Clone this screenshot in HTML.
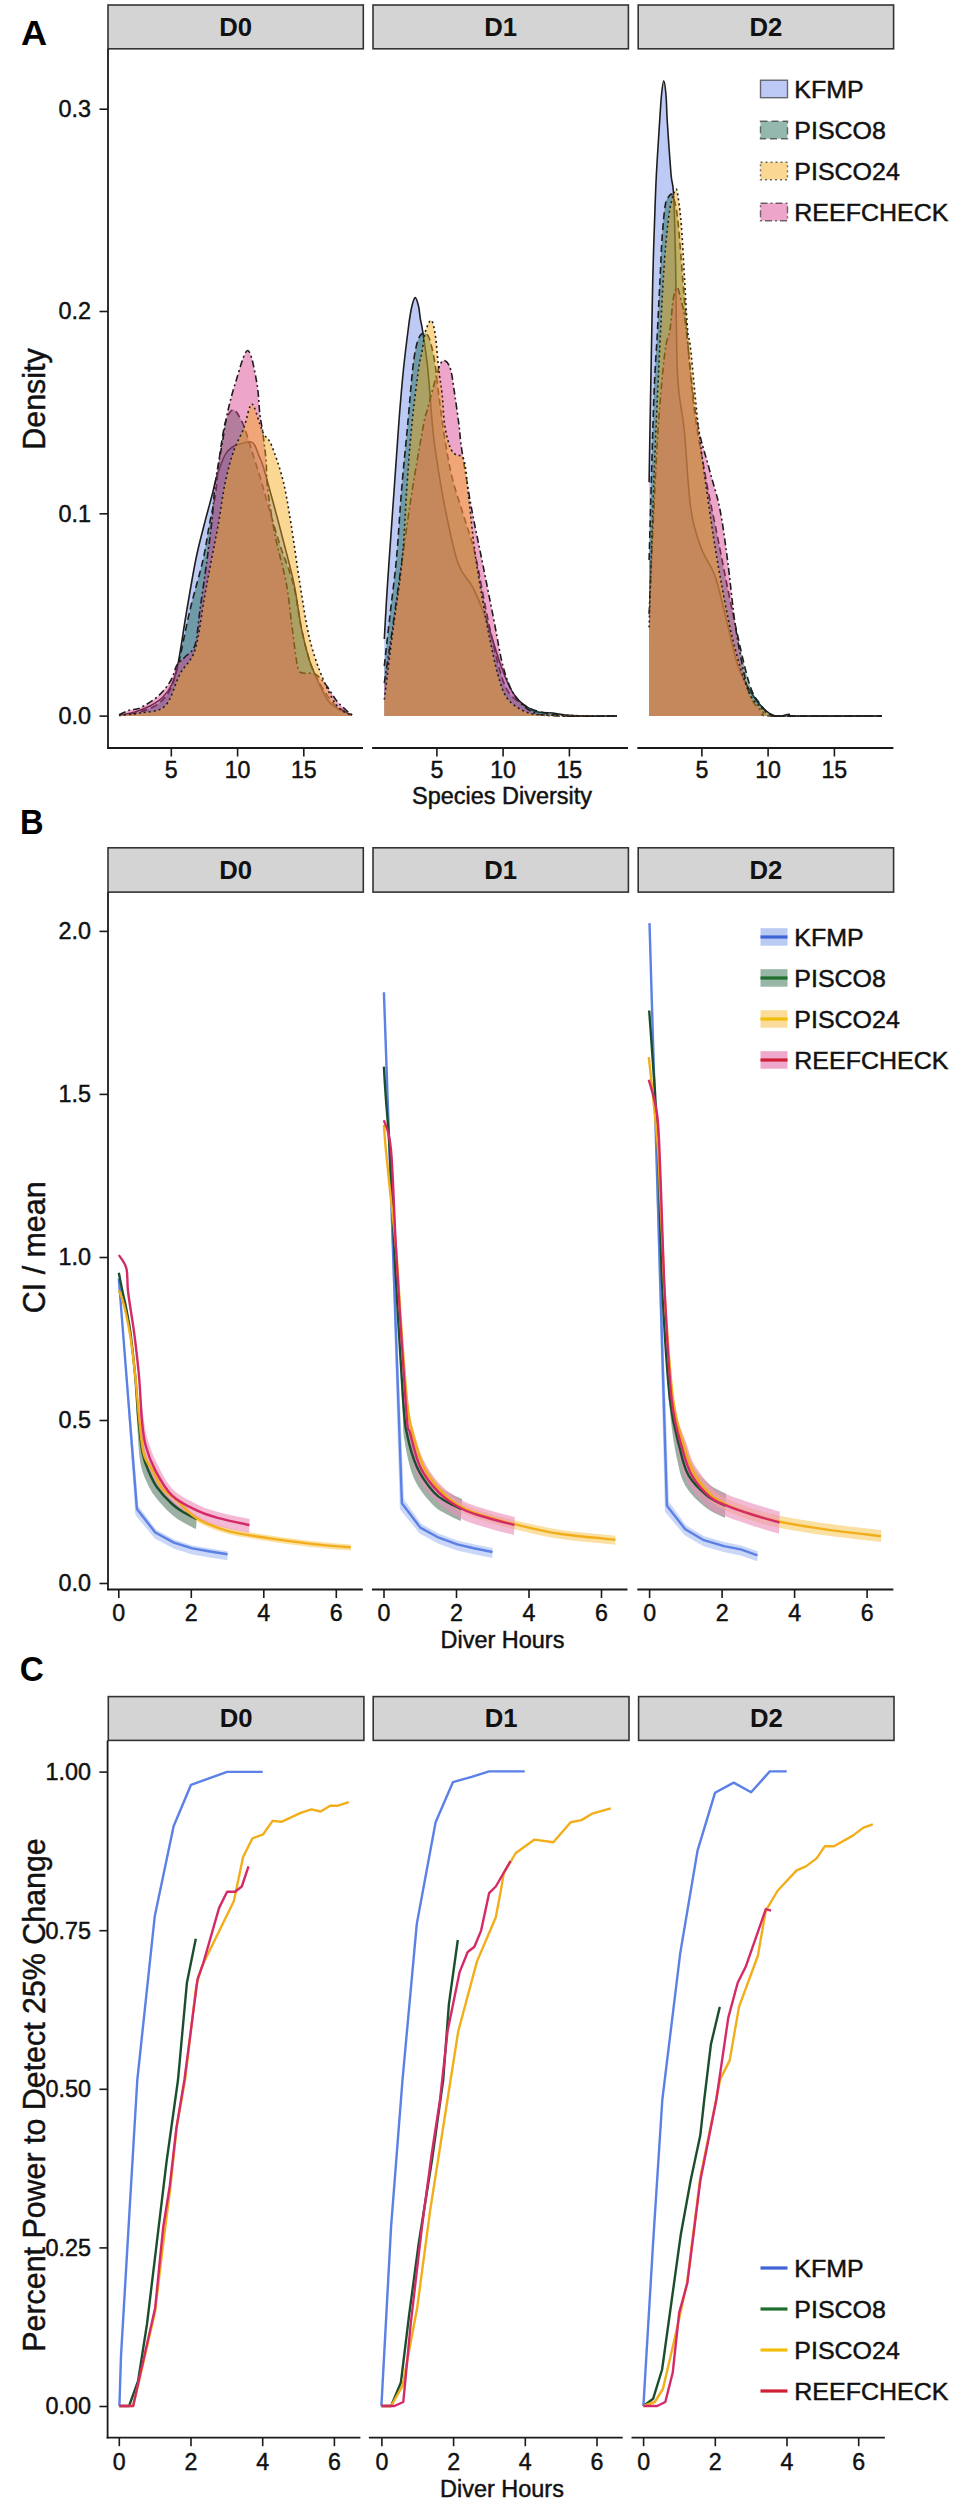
<!DOCTYPE html><html><head><meta charset="utf-8"><style>html,body{margin:0;padding:0;background:#fff;}svg{display:block;}</style></head><body>
<svg width="953" height="2500" viewBox="0 0 953 2500" font-family='"Liberation Sans", sans-serif'>
<rect x="0" y="0" width="953" height="2500" fill="#fff"/>
<text x="0" y="0" font-size="35.50" text-anchor="start" font-weight="bold" fill="#000" transform="translate(20.90 45.30) scale(1.0200 1)">A</text>
<rect x="108.0" y="5.0" width="255.3" height="43.8" fill="#d4d4d4" stroke="#333333" stroke-width="1.6"/>
<text x="235.65" y="35.60" font-size="25.70" text-anchor="middle" font-weight="bold" fill="#111">D0</text>
<rect x="373.0" y="5.0" width="255.4" height="43.8" fill="#d4d4d4" stroke="#333333" stroke-width="1.6"/>
<text x="500.70" y="35.60" font-size="25.70" text-anchor="middle" font-weight="bold" fill="#111">D1</text>
<rect x="638.2" y="5.0" width="255.4" height="43.8" fill="#d4d4d4" stroke="#333333" stroke-width="1.6"/>
<text x="765.90" y="35.60" font-size="25.70" text-anchor="middle" font-weight="bold" fill="#111">D2</text>
<line x1="108.0" y1="48.8" x2="108.0" y2="748.8" stroke="#1a1a1a" stroke-width="1.8"/>
<line x1="107.1" y1="748.0" x2="363.0" y2="748.0" stroke="#1a1a1a" stroke-width="1.8"/>
<line x1="372.1" y1="748.0" x2="628.0" y2="748.0" stroke="#1a1a1a" stroke-width="1.8"/>
<line x1="637.3" y1="748.0" x2="893.4" y2="748.0" stroke="#1a1a1a" stroke-width="1.8"/>
<line x1="99.5" y1="716.1" x2="108.0" y2="716.1" stroke="#1a1a1a" stroke-width="1.6"/>
<text x="91.00" y="724.08" font-size="23.40" text-anchor="end" stroke="#111" stroke-width="0.45" fill="#111">0.0</text>
<line x1="99.5" y1="513.8" x2="108.0" y2="513.8" stroke="#1a1a1a" stroke-width="1.6"/>
<text x="91.00" y="521.78" font-size="23.40" text-anchor="end" stroke="#111" stroke-width="0.45" fill="#111">0.1</text>
<line x1="99.5" y1="311.5" x2="108.0" y2="311.5" stroke="#1a1a1a" stroke-width="1.6"/>
<text x="91.00" y="319.48" font-size="23.40" text-anchor="end" stroke="#111" stroke-width="0.45" fill="#111">0.2</text>
<line x1="99.5" y1="109.2" x2="108.0" y2="109.2" stroke="#1a1a1a" stroke-width="1.6"/>
<text x="91.00" y="117.18" font-size="23.40" text-anchor="end" stroke="#111" stroke-width="0.45" fill="#111">0.3</text>
<line x1="171.3" y1="748.0" x2="171.3" y2="756.5" stroke="#1a1a1a" stroke-width="1.6"/>
<text x="171.30" y="778.20" font-size="23.20" text-anchor="middle" stroke="#111" stroke-width="0.45" fill="#111">5</text>
<line x1="237.6" y1="748.0" x2="237.6" y2="756.5" stroke="#1a1a1a" stroke-width="1.6"/>
<text x="237.55" y="778.20" font-size="23.20" text-anchor="middle" stroke="#111" stroke-width="0.45" fill="#111">10</text>
<line x1="303.8" y1="748.0" x2="303.8" y2="756.5" stroke="#1a1a1a" stroke-width="1.6"/>
<text x="303.80" y="778.20" font-size="23.20" text-anchor="middle" stroke="#111" stroke-width="0.45" fill="#111">15</text>
<line x1="436.9" y1="748.0" x2="436.9" y2="756.5" stroke="#1a1a1a" stroke-width="1.6"/>
<text x="436.85" y="778.20" font-size="23.20" text-anchor="middle" stroke="#111" stroke-width="0.45" fill="#111">5</text>
<line x1="503.1" y1="748.0" x2="503.1" y2="756.5" stroke="#1a1a1a" stroke-width="1.6"/>
<text x="503.10" y="778.20" font-size="23.20" text-anchor="middle" stroke="#111" stroke-width="0.45" fill="#111">10</text>
<line x1="569.4" y1="748.0" x2="569.4" y2="756.5" stroke="#1a1a1a" stroke-width="1.6"/>
<text x="569.35" y="778.20" font-size="23.20" text-anchor="middle" stroke="#111" stroke-width="0.45" fill="#111">15</text>
<line x1="701.9" y1="748.0" x2="701.9" y2="756.5" stroke="#1a1a1a" stroke-width="1.6"/>
<text x="701.85" y="778.20" font-size="23.20" text-anchor="middle" stroke="#111" stroke-width="0.45" fill="#111">5</text>
<line x1="768.1" y1="748.0" x2="768.1" y2="756.5" stroke="#1a1a1a" stroke-width="1.6"/>
<text x="768.10" y="778.20" font-size="23.20" text-anchor="middle" stroke="#111" stroke-width="0.45" fill="#111">10</text>
<line x1="834.4" y1="748.0" x2="834.4" y2="756.5" stroke="#1a1a1a" stroke-width="1.6"/>
<text x="834.35" y="778.20" font-size="23.20" text-anchor="middle" stroke="#111" stroke-width="0.45" fill="#111">15</text>
<text x="0" y="0" font-size="23.00" text-anchor="middle" stroke="#111" stroke-width="0.45" fill="#111" transform="translate(502.00 804.00) scale(1.0200 1)">Species Diversity</text>
<text x="0" y="0" font-size="30.40" text-anchor="middle" fill="#111" stroke="#111" stroke-width="0.45" transform="translate(44.70 399.00) rotate(-90) scale(1 1.06)">Density</text>
<path d="M119.0 716.0 L119.0 715.5 C121.7 714.9 129.8 713.6 135.0 712.0 C140.2 710.4 145.3 708.5 150.0 706.0 C154.7 703.5 159.3 700.7 163.0 697.0 C166.7 693.3 169.5 689.5 172.0 684.0 C174.5 678.5 175.7 675.5 178.0 664.0 C180.3 652.5 183.1 632.3 186.0 615.0 C188.9 597.7 192.7 575.0 195.7 560.0 C198.7 545.0 201.3 536.1 204.1 525.0 C206.9 513.9 210.4 501.6 212.5 493.5 C214.6 485.4 214.6 483.1 216.7 476.7 C218.8 470.3 222.4 459.9 225.0 455.0 C227.6 450.1 229.9 448.8 232.4 447.0 C234.9 445.2 237.0 444.9 240.0 444.0 C243.0 443.1 248.0 441.6 250.4 441.8 C252.8 442.0 253.2 442.7 254.6 445.0 C256.0 447.3 257.4 451.9 258.8 455.4 C260.2 458.9 261.1 459.9 263.0 466.0 C264.9 472.1 267.1 480.1 270.3 492.0 C273.6 503.9 278.6 522.5 282.5 537.7 C286.4 552.9 290.7 568.1 293.9 583.3 C297.1 598.5 299.0 616.2 301.5 628.9 C304.0 641.6 306.8 651.7 309.1 659.3 C311.4 666.9 313.0 669.4 315.1 674.5 C317.2 679.6 319.5 685.2 322.0 690.0 C324.5 694.8 327.0 699.7 330.0 703.0 C333.0 706.3 336.3 708.0 340.0 710.0 C343.7 712.0 350.0 714.2 352.0 715.0 L352.0 716.0 Z" fill="#6a89e9" fill-opacity="0.45" stroke="none"/>
<path d="M119.0 715.5 C121.7 714.9 129.8 713.6 135.0 712.0 C140.2 710.4 145.3 708.5 150.0 706.0 C154.7 703.5 159.3 700.7 163.0 697.0 C166.7 693.3 169.5 689.5 172.0 684.0 C174.5 678.5 175.7 675.5 178.0 664.0 C180.3 652.5 183.1 632.3 186.0 615.0 C188.9 597.7 192.7 575.0 195.7 560.0 C198.7 545.0 201.3 536.1 204.1 525.0 C206.9 513.9 210.4 501.6 212.5 493.5 C214.6 485.4 214.6 483.1 216.7 476.7 C218.8 470.3 222.4 459.9 225.0 455.0 C227.6 450.1 229.9 448.8 232.4 447.0 C234.9 445.2 237.0 444.9 240.0 444.0 C243.0 443.1 248.0 441.6 250.4 441.8 C252.8 442.0 253.2 442.7 254.6 445.0 C256.0 447.3 257.4 451.9 258.8 455.4 C260.2 458.9 261.1 459.9 263.0 466.0 C264.9 472.1 267.1 480.1 270.3 492.0 C273.6 503.9 278.6 522.5 282.5 537.7 C286.4 552.9 290.7 568.1 293.9 583.3 C297.1 598.5 299.0 616.2 301.5 628.9 C304.0 641.6 306.8 651.7 309.1 659.3 C311.4 666.9 313.0 669.4 315.1 674.5 C317.2 679.6 319.5 685.2 322.0 690.0 C324.5 694.8 327.0 699.7 330.0 703.0 C333.0 706.3 336.3 708.0 340.0 710.0 C343.7 712.0 350.0 714.2 352.0 715.0" fill="none" stroke="#1e1e1e" stroke-width="1.6"/>
<path d="M119.0 716.0 L119.0 715.5 C122.5 714.9 133.5 713.9 140.0 712.0 C146.5 710.1 153.0 707.7 158.0 704.0 C163.0 700.3 166.6 696.7 170.0 690.0 C173.4 683.3 175.1 677.1 178.4 663.8 C181.7 650.5 185.9 627.3 190.0 610.0 C194.1 592.7 199.8 574.2 203.0 560.0 C206.2 545.8 207.2 536.1 209.3 525.0 C211.4 513.9 214.1 503.1 215.6 493.5 C217.1 483.9 217.1 476.1 218.2 467.2 C219.3 458.3 220.7 447.9 222.0 440.0 C223.3 432.1 224.2 425.0 226.1 420.0 C228.0 415.0 230.8 409.1 233.6 409.8 C236.4 410.5 240.3 418.1 243.0 424.0 C245.7 429.9 247.0 435.7 250.0 445.0 C253.0 454.3 257.9 470.0 260.9 480.0 C263.9 490.0 264.8 494.2 268.0 505.0 C271.2 515.8 275.8 532.0 280.0 545.0 C284.2 558.0 289.4 569.0 293.0 583.0 C296.6 597.0 298.8 616.2 301.5 628.9 C304.2 641.6 306.8 651.7 309.1 659.3 C311.4 666.9 312.5 669.0 315.1 674.5 C317.8 680.0 321.5 686.8 325.0 692.0 C328.5 697.2 331.5 702.2 336.0 706.0 C340.5 709.8 349.3 713.5 352.0 715.0 L352.0 716.0 Z" fill="#11614b" fill-opacity="0.45" stroke="none"/>
<path d="M119.0 715.5 C122.5 714.9 133.5 713.9 140.0 712.0 C146.5 710.1 153.0 707.7 158.0 704.0 C163.0 700.3 166.6 696.7 170.0 690.0 C173.4 683.3 175.1 677.1 178.4 663.8 C181.7 650.5 185.9 627.3 190.0 610.0 C194.1 592.7 199.8 574.2 203.0 560.0 C206.2 545.8 207.2 536.1 209.3 525.0 C211.4 513.9 214.1 503.1 215.6 493.5 C217.1 483.9 217.1 476.1 218.2 467.2 C219.3 458.3 220.7 447.9 222.0 440.0 C223.3 432.1 224.2 425.0 226.1 420.0 C228.0 415.0 230.8 409.1 233.6 409.8 C236.4 410.5 240.3 418.1 243.0 424.0 C245.7 429.9 247.0 435.7 250.0 445.0 C253.0 454.3 257.9 470.0 260.9 480.0 C263.9 490.0 264.8 494.2 268.0 505.0 C271.2 515.8 275.8 532.0 280.0 545.0 C284.2 558.0 289.4 569.0 293.0 583.0 C296.6 597.0 298.8 616.2 301.5 628.9 C304.2 641.6 306.8 651.7 309.1 659.3 C311.4 666.9 312.5 669.0 315.1 674.5 C317.8 680.0 321.5 686.8 325.0 692.0 C328.5 697.2 331.5 702.2 336.0 706.0 C340.5 709.8 349.3 713.5 352.0 715.0" fill="none" stroke="#1e1e1e" stroke-width="1.6" stroke-dasharray="7 4"/>
<path d="M119.0 716.0 L119.0 714.7 C120.8 713.9 126.4 711.1 130.0 710.0 C133.6 708.9 135.6 710.2 140.4 707.8 C145.2 705.4 153.5 700.2 158.6 695.7 C163.7 691.2 167.7 685.6 170.8 680.5 C173.9 675.4 174.6 668.9 177.0 665.0 C179.4 661.1 182.0 660.3 185.0 657.0 C188.0 653.7 192.5 652.8 195.0 645.0 C197.5 637.2 198.0 624.2 200.0 610.0 C202.0 595.8 205.0 575.0 207.0 560.0 C209.0 545.0 210.6 533.3 212.0 520.0 C213.4 506.7 214.0 492.5 215.7 480.0 C217.4 467.5 220.1 456.1 222.0 445.0 C223.9 433.9 225.0 424.0 227.3 413.5 C229.6 403.0 232.3 392.5 235.7 382.0 C239.1 371.5 244.2 350.5 247.7 350.5 C251.2 350.5 254.7 371.5 256.7 382.0 C258.7 392.5 258.8 404.8 259.8 413.5 C260.9 422.2 262.0 426.6 263.0 434.4 C264.0 442.1 265.2 450.4 266.0 460.0 C266.8 469.6 266.4 479.1 268.0 492.0 C269.6 504.9 272.6 522.5 275.6 537.7 C278.7 552.9 283.5 568.1 286.3 583.3 C289.1 598.5 290.4 614.9 292.3 628.9 C294.2 642.9 295.9 659.6 297.7 667.0 C299.5 674.4 300.1 671.8 303.0 673.0 C305.9 674.2 311.2 672.0 315.0 674.0 C318.8 676.0 322.5 680.7 326.0 685.0 C329.5 689.3 332.7 695.8 336.0 700.0 C339.3 704.2 343.3 707.5 346.0 710.0 C348.7 712.5 351.0 714.2 352.0 715.0 L352.0 716.0 Z" fill="#d93789" fill-opacity="0.45" stroke="none"/>
<path d="M119.0 714.7 C120.8 713.9 126.4 711.1 130.0 710.0 C133.6 708.9 135.6 710.2 140.4 707.8 C145.2 705.4 153.5 700.2 158.6 695.7 C163.7 691.2 167.7 685.6 170.8 680.5 C173.9 675.4 174.6 668.9 177.0 665.0 C179.4 661.1 182.0 660.3 185.0 657.0 C188.0 653.7 192.5 652.8 195.0 645.0 C197.5 637.2 198.0 624.2 200.0 610.0 C202.0 595.8 205.0 575.0 207.0 560.0 C209.0 545.0 210.6 533.3 212.0 520.0 C213.4 506.7 214.0 492.5 215.7 480.0 C217.4 467.5 220.1 456.1 222.0 445.0 C223.9 433.9 225.0 424.0 227.3 413.5 C229.6 403.0 232.3 392.5 235.7 382.0 C239.1 371.5 244.2 350.5 247.7 350.5 C251.2 350.5 254.7 371.5 256.7 382.0 C258.7 392.5 258.8 404.8 259.8 413.5 C260.9 422.2 262.0 426.6 263.0 434.4 C264.0 442.1 265.2 450.4 266.0 460.0 C266.8 469.6 266.4 479.1 268.0 492.0 C269.6 504.9 272.6 522.5 275.6 537.7 C278.7 552.9 283.5 568.1 286.3 583.3 C289.1 598.5 290.4 614.9 292.3 628.9 C294.2 642.9 295.9 659.6 297.7 667.0 C299.5 674.4 300.1 671.8 303.0 673.0 C305.9 674.2 311.2 672.0 315.0 674.0 C318.8 676.0 322.5 680.7 326.0 685.0 C329.5 689.3 332.7 695.8 336.0 700.0 C339.3 704.2 343.3 707.5 346.0 710.0 C348.7 712.5 351.0 714.2 352.0 715.0" fill="none" stroke="#1e1e1e" stroke-width="1.6" stroke-dasharray="7 3 2 3"/>
<path d="M119.0 716.0 L119.0 715.0 C122.5 714.7 132.3 714.5 140.0 713.0 C147.7 711.5 158.3 712.5 165.0 706.0 C171.7 699.5 175.0 683.3 180.0 674.0 C185.0 664.7 191.0 662.3 195.0 650.0 C199.0 637.7 201.3 615.0 204.0 600.0 C206.7 585.0 209.0 572.5 211.4 560.0 C213.8 547.5 215.9 537.8 218.2 525.0 C220.5 512.2 222.5 495.2 225.1 483.0 C227.7 470.8 230.5 460.2 233.5 451.5 C236.5 442.8 241.0 435.1 242.9 430.5 C244.8 425.9 243.6 428.4 245.1 424.0 C246.6 419.6 249.4 404.0 251.9 404.0 C254.4 404.0 257.8 418.9 259.8 424.0 C261.8 429.1 262.1 430.9 264.0 434.4 C265.9 437.9 268.2 437.4 271.4 445.0 C274.5 452.6 279.7 467.1 282.9 480.0 C286.1 492.9 288.0 505.3 290.8 522.5 C293.6 539.7 296.8 564.3 299.9 583.3 C302.9 602.3 305.6 621.3 309.1 636.5 C312.7 651.7 316.6 663.1 321.2 674.5 C325.8 685.9 331.3 698.1 336.4 705.0 C341.5 711.9 349.1 713.8 351.6 715.6 L351.6 716.0 Z" fill="#f4a811" fill-opacity="0.45" stroke="none"/>
<path d="M119.0 715.0 C122.5 714.7 132.3 714.5 140.0 713.0 C147.7 711.5 158.3 712.5 165.0 706.0 C171.7 699.5 175.0 683.3 180.0 674.0 C185.0 664.7 191.0 662.3 195.0 650.0 C199.0 637.7 201.3 615.0 204.0 600.0 C206.7 585.0 209.0 572.5 211.4 560.0 C213.8 547.5 215.9 537.8 218.2 525.0 C220.5 512.2 222.5 495.2 225.1 483.0 C227.7 470.8 230.5 460.2 233.5 451.5 C236.5 442.8 241.0 435.1 242.9 430.5 C244.8 425.9 243.6 428.4 245.1 424.0 C246.6 419.6 249.4 404.0 251.9 404.0 C254.4 404.0 257.8 418.9 259.8 424.0 C261.8 429.1 262.1 430.9 264.0 434.4 C265.9 437.9 268.2 437.4 271.4 445.0 C274.5 452.6 279.7 467.1 282.9 480.0 C286.1 492.9 288.0 505.3 290.8 522.5 C293.6 539.7 296.8 564.3 299.9 583.3 C302.9 602.3 305.6 621.3 309.1 636.5 C312.7 651.7 316.6 663.1 321.2 674.5 C325.8 685.9 331.3 698.1 336.4 705.0 C341.5 711.9 349.1 713.8 351.6 715.6" fill="none" stroke="#1e1e1e" stroke-width="1.6" stroke-dasharray="2 3"/>
<path d="M384.3 716.0 L384.3 639.0 C384.7 632.5 385.7 613.3 386.5 600.0 C387.3 586.7 387.9 578.2 389.2 559.4 C390.5 540.6 392.7 510.1 394.3 487.2 C395.9 464.3 397.4 441.7 398.9 422.0 C400.4 402.3 401.9 384.8 403.5 369.0 C405.1 353.2 407.2 337.2 408.5 327.0 C409.8 316.8 410.4 312.9 411.5 308.0 C412.6 303.1 414.0 297.9 415.2 297.6 C416.4 297.3 417.6 302.5 418.5 306.0 C419.4 309.5 419.6 314.3 420.3 318.6 C421.0 322.9 421.6 323.6 422.8 332.0 C424.1 340.4 426.3 354.3 427.8 369.0 C429.3 383.7 430.8 406.5 432.0 420.0 C433.2 433.5 433.2 435.6 435.3 450.0 C437.4 464.4 441.0 487.8 444.8 506.7 C448.6 525.6 453.3 549.8 458.0 563.3 C462.7 576.8 468.4 578.4 473.1 587.9 C477.8 597.4 481.6 606.8 486.3 620.0 C491.0 633.2 496.7 654.6 501.4 667.2 C506.1 679.8 509.3 688.4 514.7 695.6 C520.1 702.9 527.2 707.8 533.6 710.7 C540.0 713.6 547.8 712.3 553.0 713.0 C558.2 713.7 560.5 714.5 565.0 715.0 C569.5 715.5 571.3 715.8 580.0 716.0 C588.7 716.2 610.8 716.0 617.0 716.0 L617.0 716.0 Z" fill="#6a89e9" fill-opacity="0.45" stroke="none"/>
<path d="M384.3 639.0 C384.7 632.5 385.7 613.3 386.5 600.0 C387.3 586.7 387.9 578.2 389.2 559.4 C390.5 540.6 392.7 510.1 394.3 487.2 C395.9 464.3 397.4 441.7 398.9 422.0 C400.4 402.3 401.9 384.8 403.5 369.0 C405.1 353.2 407.2 337.2 408.5 327.0 C409.8 316.8 410.4 312.9 411.5 308.0 C412.6 303.1 414.0 297.9 415.2 297.6 C416.4 297.3 417.6 302.5 418.5 306.0 C419.4 309.5 419.6 314.3 420.3 318.6 C421.0 322.9 421.6 323.6 422.8 332.0 C424.1 340.4 426.3 354.3 427.8 369.0 C429.3 383.7 430.8 406.5 432.0 420.0 C433.2 433.5 433.2 435.6 435.3 450.0 C437.4 464.4 441.0 487.8 444.8 506.7 C448.6 525.6 453.3 549.8 458.0 563.3 C462.7 576.8 468.4 578.4 473.1 587.9 C477.8 597.4 481.6 606.8 486.3 620.0 C491.0 633.2 496.7 654.6 501.4 667.2 C506.1 679.8 509.3 688.4 514.7 695.6 C520.1 702.9 527.2 707.8 533.6 710.7 C540.0 713.6 547.8 712.3 553.0 713.0 C558.2 713.7 560.5 714.5 565.0 715.0 C569.5 715.5 571.3 715.8 580.0 716.0 C588.7 716.2 610.8 716.0 617.0 716.0" fill="none" stroke="#1e1e1e" stroke-width="1.6"/>
<path d="M384.3 716.0 L384.3 666.0 C385.2 657.5 388.0 632.8 390.0 615.0 C392.0 597.2 394.4 580.7 396.4 559.4 C398.4 538.1 399.9 509.7 401.8 487.2 C403.7 464.7 405.9 444.1 407.7 424.4 C409.5 404.7 411.2 382.4 412.7 369.0 C414.2 355.6 415.4 349.7 416.9 343.8 C418.4 337.9 419.9 334.8 421.9 333.7 C423.9 332.6 426.6 332.5 428.7 337.0 C430.8 341.5 432.8 351.1 434.5 360.6 C436.2 370.1 436.9 381.0 438.7 394.2 C440.4 407.4 442.7 426.0 445.0 440.0 C447.3 454.0 449.2 465.6 452.3 478.3 C455.4 491.0 459.9 503.4 463.7 516.0 C467.5 528.6 470.6 535.0 475.0 553.9 C479.4 572.8 485.1 607.4 490.1 629.4 C495.1 651.4 499.5 673.5 505.2 686.1 C510.9 698.7 517.5 700.5 524.1 705.0 C530.7 709.5 537.4 711.2 545.0 713.0 C552.6 714.8 558.0 715.5 570.0 716.0 C582.0 716.5 609.2 716.0 617.0 716.0 L617.0 716.0 Z" fill="#11614b" fill-opacity="0.45" stroke="none"/>
<path d="M384.3 666.0 C385.2 657.5 388.0 632.8 390.0 615.0 C392.0 597.2 394.4 580.7 396.4 559.4 C398.4 538.1 399.9 509.7 401.8 487.2 C403.7 464.7 405.9 444.1 407.7 424.4 C409.5 404.7 411.2 382.4 412.7 369.0 C414.2 355.6 415.4 349.7 416.9 343.8 C418.4 337.9 419.9 334.8 421.9 333.7 C423.9 332.6 426.6 332.5 428.7 337.0 C430.8 341.5 432.8 351.1 434.5 360.6 C436.2 370.1 436.9 381.0 438.7 394.2 C440.4 407.4 442.7 426.0 445.0 440.0 C447.3 454.0 449.2 465.6 452.3 478.3 C455.4 491.0 459.9 503.4 463.7 516.0 C467.5 528.6 470.6 535.0 475.0 553.9 C479.4 572.8 485.1 607.4 490.1 629.4 C495.1 651.4 499.5 673.5 505.2 686.1 C510.9 698.7 517.5 700.5 524.1 705.0 C530.7 709.5 537.4 711.2 545.0 713.0 C552.6 714.8 558.0 715.5 570.0 716.0 C582.0 716.5 609.2 716.0 617.0 716.0" fill="none" stroke="#1e1e1e" stroke-width="1.6" stroke-dasharray="7 4"/>
<path d="M384.3 716.0 L384.3 683.0 C385.8 673.3 390.0 645.6 393.0 625.0 C396.0 604.4 398.9 582.4 402.2 559.4 C405.5 536.4 409.1 509.7 412.7 487.2 C416.3 464.7 421.2 437.1 423.6 424.4 C426.0 411.7 425.3 417.4 427.0 411.0 C428.7 404.6 431.6 393.4 433.7 385.8 C435.8 378.2 437.8 369.8 439.6 365.6 C441.4 361.4 442.8 360.0 444.6 360.6 C446.4 361.2 448.8 363.4 450.5 369.0 C452.2 374.6 453.3 385.0 454.7 394.2 C456.1 403.4 457.7 415.1 458.9 424.4 C460.1 433.7 459.8 436.3 461.8 450.0 C463.9 463.7 467.7 487.8 471.2 506.7 C474.7 525.6 478.8 544.4 482.6 563.3 C486.4 582.2 490.4 602.7 493.9 620.0 C497.3 637.3 499.8 654.6 503.3 667.2 C506.8 679.8 509.7 688.0 514.7 695.6 C519.8 703.2 526.1 709.2 533.6 712.6 C541.1 716.0 546.1 715.4 560.0 716.0 C573.9 716.6 607.5 716.0 617.0 716.0 L617.0 716.0 Z" fill="#d93789" fill-opacity="0.45" stroke="none"/>
<path d="M384.3 683.0 C385.8 673.3 390.0 645.6 393.0 625.0 C396.0 604.4 398.9 582.4 402.2 559.4 C405.5 536.4 409.1 509.7 412.7 487.2 C416.3 464.7 421.2 437.1 423.6 424.4 C426.0 411.7 425.3 417.4 427.0 411.0 C428.7 404.6 431.6 393.4 433.7 385.8 C435.8 378.2 437.8 369.8 439.6 365.6 C441.4 361.4 442.8 360.0 444.6 360.6 C446.4 361.2 448.8 363.4 450.5 369.0 C452.2 374.6 453.3 385.0 454.7 394.2 C456.1 403.4 457.7 415.1 458.9 424.4 C460.1 433.7 459.8 436.3 461.8 450.0 C463.9 463.7 467.7 487.8 471.2 506.7 C474.7 525.6 478.8 544.4 482.6 563.3 C486.4 582.2 490.4 602.7 493.9 620.0 C497.3 637.3 499.8 654.6 503.3 667.2 C506.8 679.8 509.7 688.0 514.7 695.6 C519.8 703.2 526.1 709.2 533.6 712.6 C541.1 716.0 546.1 715.4 560.0 716.0 C573.9 716.6 607.5 716.0 617.0 716.0" fill="none" stroke="#1e1e1e" stroke-width="1.6" stroke-dasharray="7 3 2 3"/>
<path d="M384.3 716.0 L384.3 699.5 C385.8 687.9 390.0 653.4 393.0 630.0 C396.0 606.6 399.9 583.2 402.2 559.4 C404.5 535.6 405.3 509.7 406.9 487.2 C408.5 464.7 409.9 444.1 411.9 424.4 C413.8 404.7 416.9 381.0 418.6 369.0 C420.3 357.0 420.8 358.4 421.9 352.2 C423.0 346.0 423.8 337.3 425.3 332.0 C426.9 326.7 429.5 319.7 431.2 320.3 C432.9 320.9 434.1 327.3 435.4 335.4 C436.6 343.5 437.6 359.2 438.7 369.0 C439.8 378.8 441.1 385.0 442.1 394.2 C443.1 403.4 443.3 415.6 444.6 424.4 C445.9 433.2 448.1 441.9 450.0 447.0 C451.9 452.1 453.7 452.8 456.0 455.0 C458.3 457.2 461.8 452.5 464.0 460.0 C466.2 467.5 467.2 484.5 469.0 500.0 C470.8 515.5 472.7 536.3 475.0 553.0 C477.3 569.7 480.1 585.5 482.6 600.0 C485.1 614.5 487.4 627.5 490.0 640.0 C492.6 652.5 495.2 665.3 498.0 675.0 C500.8 684.7 502.7 692.0 507.0 698.0 C511.3 704.0 517.7 708.2 524.0 711.0 C530.3 713.8 529.5 714.2 545.0 715.0 C560.5 715.8 605.0 715.8 617.0 716.0 L617.0 716.0 Z" fill="#f4a811" fill-opacity="0.45" stroke="none"/>
<path d="M384.3 699.5 C385.8 687.9 390.0 653.4 393.0 630.0 C396.0 606.6 399.9 583.2 402.2 559.4 C404.5 535.6 405.3 509.7 406.9 487.2 C408.5 464.7 409.9 444.1 411.9 424.4 C413.8 404.7 416.9 381.0 418.6 369.0 C420.3 357.0 420.8 358.4 421.9 352.2 C423.0 346.0 423.8 337.3 425.3 332.0 C426.9 326.7 429.5 319.7 431.2 320.3 C432.9 320.9 434.1 327.3 435.4 335.4 C436.6 343.5 437.6 359.2 438.7 369.0 C439.8 378.8 441.1 385.0 442.1 394.2 C443.1 403.4 443.3 415.6 444.6 424.4 C445.9 433.2 448.1 441.9 450.0 447.0 C451.9 452.1 453.7 452.8 456.0 455.0 C458.3 457.2 461.8 452.5 464.0 460.0 C466.2 467.5 467.2 484.5 469.0 500.0 C470.8 515.5 472.7 536.3 475.0 553.0 C477.3 569.7 480.1 585.5 482.6 600.0 C485.1 614.5 487.4 627.5 490.0 640.0 C492.6 652.5 495.2 665.3 498.0 675.0 C500.8 684.7 502.7 692.0 507.0 698.0 C511.3 704.0 517.7 708.2 524.0 711.0 C530.3 713.8 529.5 714.2 545.0 715.0 C560.5 715.8 605.0 715.8 617.0 716.0" fill="none" stroke="#1e1e1e" stroke-width="1.6" stroke-dasharray="2 3"/>
<path d="M649.1 716.0 L649.1 482.3 C649.3 468.6 650.0 425.4 650.5 400.0 C651.0 374.6 651.4 350.3 651.8 330.0 C652.2 309.7 652.4 295.3 652.8 278.0 C653.2 260.7 653.8 243.3 654.4 226.0 C655.0 208.7 655.5 191.3 656.4 174.0 C657.3 156.7 658.8 135.2 659.6 122.0 C660.5 108.8 660.8 101.8 661.5 95.0 C662.2 88.2 663.0 80.9 663.7 80.9 C664.5 80.9 665.4 88.2 666.0 95.0 C666.6 101.8 666.5 108.8 667.3 122.0 C668.1 135.2 670.0 161.9 671.0 174.0 C672.0 186.1 672.9 180.4 673.6 194.7 C674.4 209.0 674.8 229.7 675.5 260.0 C676.2 290.3 676.1 348.4 677.6 376.7 C679.1 404.9 682.0 407.5 684.2 429.5 C686.4 451.5 687.9 488.9 690.8 508.7 C693.6 528.5 697.3 537.3 701.3 548.3 C705.2 559.3 710.5 563.6 714.5 574.6 C718.5 585.6 721.1 598.8 725.1 614.2 C729.1 629.6 733.5 653.2 738.3 667.0 C743.1 680.8 749.5 689.8 754.0 697.0 C758.5 704.2 761.7 706.9 765.0 710.0 C768.3 713.1 771.2 714.5 774.0 715.5 C776.8 716.5 779.5 716.2 782.0 716.0 C784.5 715.8 786.5 714.2 789.0 714.2 C791.5 714.2 781.5 715.7 797.0 716.0 C812.5 716.3 867.8 716.0 882.0 716.0 L882.0 716.0 Z" fill="#6a89e9" fill-opacity="0.45" stroke="none"/>
<path d="M649.1 482.3 C649.3 468.6 650.0 425.4 650.5 400.0 C651.0 374.6 651.4 350.3 651.8 330.0 C652.2 309.7 652.4 295.3 652.8 278.0 C653.2 260.7 653.8 243.3 654.4 226.0 C655.0 208.7 655.5 191.3 656.4 174.0 C657.3 156.7 658.8 135.2 659.6 122.0 C660.5 108.8 660.8 101.8 661.5 95.0 C662.2 88.2 663.0 80.9 663.7 80.9 C664.5 80.9 665.4 88.2 666.0 95.0 C666.6 101.8 666.5 108.8 667.3 122.0 C668.1 135.2 670.0 161.9 671.0 174.0 C672.0 186.1 672.9 180.4 673.6 194.7 C674.4 209.0 674.8 229.7 675.5 260.0 C676.2 290.3 676.1 348.4 677.6 376.7 C679.1 404.9 682.0 407.5 684.2 429.5 C686.4 451.5 687.9 488.9 690.8 508.7 C693.6 528.5 697.3 537.3 701.3 548.3 C705.2 559.3 710.5 563.6 714.5 574.6 C718.5 585.6 721.1 598.8 725.1 614.2 C729.1 629.6 733.5 653.2 738.3 667.0 C743.1 680.8 749.5 689.8 754.0 697.0 C758.5 704.2 761.7 706.9 765.0 710.0 C768.3 713.1 771.2 714.5 774.0 715.5 C776.8 716.5 779.5 716.2 782.0 716.0 C784.5 715.8 786.5 714.2 789.0 714.2 C791.5 714.2 781.5 715.7 797.0 716.0 C812.5 716.3 867.8 716.0 882.0 716.0" fill="none" stroke="#1e1e1e" stroke-width="1.6"/>
<path d="M649.1 716.0 L649.1 560.0 C649.9 533.3 652.4 438.3 653.8 400.0 C655.2 361.7 656.5 350.3 657.5 330.0 C658.5 309.7 659.3 293.7 660.1 278.0 C660.9 262.3 661.3 248.2 662.2 236.0 C663.1 223.8 664.2 211.5 665.3 205.0 C666.3 198.5 667.3 198.5 668.5 197.0 C669.7 195.5 671.0 192.2 672.5 195.8 C674.0 199.4 675.6 201.5 677.6 218.4 C679.6 235.3 681.6 266.7 684.2 297.5 C686.8 328.3 689.7 372.3 693.4 403.1 C697.1 433.9 702.6 460.3 706.6 482.3 C710.6 504.3 712.8 513.0 717.2 535.0 C721.6 557.0 727.7 589.7 733.0 614.2 C738.3 638.7 744.3 667.0 748.8 682.0 C753.3 697.0 756.3 698.6 760.0 704.0 C763.7 709.4 767.3 712.5 771.0 714.5 C774.7 716.5 763.5 715.8 782.0 716.0 C800.5 716.2 865.3 716.0 882.0 716.0 L882.0 716.0 Z" fill="#11614b" fill-opacity="0.45" stroke="none"/>
<path d="M649.1 560.0 C649.9 533.3 652.4 438.3 653.8 400.0 C655.2 361.7 656.5 350.3 657.5 330.0 C658.5 309.7 659.3 293.7 660.1 278.0 C660.9 262.3 661.3 248.2 662.2 236.0 C663.1 223.8 664.2 211.5 665.3 205.0 C666.3 198.5 667.3 198.5 668.5 197.0 C669.7 195.5 671.0 192.2 672.5 195.8 C674.0 199.4 675.6 201.5 677.6 218.4 C679.6 235.3 681.6 266.7 684.2 297.5 C686.8 328.3 689.7 372.3 693.4 403.1 C697.1 433.9 702.6 460.3 706.6 482.3 C710.6 504.3 712.8 513.0 717.2 535.0 C721.6 557.0 727.7 589.7 733.0 614.2 C738.3 638.7 744.3 667.0 748.8 682.0 C753.3 697.0 756.3 698.6 760.0 704.0 C763.7 709.4 767.3 712.5 771.0 714.5 C774.7 716.5 763.5 715.8 782.0 716.0 C800.5 716.2 865.3 716.0 882.0 716.0" fill="none" stroke="#1e1e1e" stroke-width="1.6" stroke-dasharray="7 4"/>
<path d="M649.1 716.0 L649.1 614.2 C650.3 587.8 654.4 495.0 656.5 456.0 C658.6 417.0 660.4 398.5 662.0 380.0 C663.6 361.5 664.7 353.3 666.0 345.0 C667.3 336.7 668.8 337.5 670.0 330.0 C671.2 322.5 671.9 307.1 673.1 300.0 C674.3 292.9 675.7 287.5 677.0 287.5 C678.3 287.5 679.6 293.9 681.0 300.0 C682.4 306.1 683.0 304.6 685.5 324.0 C688.0 343.4 692.1 392.1 696.1 416.3 C700.1 440.5 705.3 453.7 709.3 469.1 C713.2 484.5 716.7 493.3 719.8 508.7 C722.9 524.1 725.1 541.6 727.7 561.4 C730.3 581.2 732.6 607.6 735.6 627.4 C738.6 647.2 742.8 667.9 745.5 680.0 C748.2 692.1 749.1 694.7 752.0 700.0 C754.9 705.3 759.5 709.3 763.0 712.0 C766.5 714.7 753.2 715.3 773.0 716.0 C792.8 716.7 863.8 716.0 882.0 716.0 L882.0 716.0 Z" fill="#d93789" fill-opacity="0.45" stroke="none"/>
<path d="M649.1 614.2 C650.3 587.8 654.4 495.0 656.5 456.0 C658.6 417.0 660.4 398.5 662.0 380.0 C663.6 361.5 664.7 353.3 666.0 345.0 C667.3 336.7 668.8 337.5 670.0 330.0 C671.2 322.5 671.9 307.1 673.1 300.0 C674.3 292.9 675.7 287.5 677.0 287.5 C678.3 287.5 679.6 293.9 681.0 300.0 C682.4 306.1 683.0 304.6 685.5 324.0 C688.0 343.4 692.1 392.1 696.1 416.3 C700.1 440.5 705.3 453.7 709.3 469.1 C713.2 484.5 716.7 493.3 719.8 508.7 C722.9 524.1 725.1 541.6 727.7 561.4 C730.3 581.2 732.6 607.6 735.6 627.4 C738.6 647.2 742.8 667.9 745.5 680.0 C748.2 692.1 749.1 694.7 752.0 700.0 C754.9 705.3 759.5 709.3 763.0 712.0 C766.5 714.7 753.2 715.3 773.0 716.0 C792.8 716.7 863.8 716.0 882.0 716.0" fill="none" stroke="#1e1e1e" stroke-width="1.6" stroke-dasharray="7 3 2 3"/>
<path d="M649.1 716.0 L649.1 627.4 C649.9 603.2 651.9 531.9 653.8 482.3 C655.7 432.7 658.8 367.6 660.6 330.0 C662.4 292.4 663.4 276.1 664.8 257.0 C666.2 237.9 667.6 225.3 668.9 215.5 C670.2 205.7 671.3 202.4 672.5 198.0 C673.7 193.6 675.2 188.7 676.2 189.0 C677.2 189.3 677.6 193.8 678.5 200.0 C679.4 206.2 680.4 213.0 681.4 226.0 C682.4 239.0 683.5 260.7 684.5 278.0 C685.5 295.3 686.6 317.9 687.6 330.0 C688.6 342.1 688.9 333.7 690.8 350.3 C692.6 366.9 695.6 403.1 698.7 429.5 C701.8 455.9 705.8 484.5 709.3 508.7 C712.8 532.9 715.8 552.6 719.8 574.6 C723.8 596.6 728.3 621.4 733.0 640.6 C737.7 659.8 743.5 678.9 748.0 690.0 C752.5 701.1 756.2 702.8 760.0 707.0 C763.8 711.2 767.7 713.5 771.0 715.0 C774.3 716.5 761.5 715.8 780.0 716.0 C798.5 716.2 865.0 716.0 882.0 716.0 L882.0 716.0 Z" fill="#f4a811" fill-opacity="0.45" stroke="none"/>
<path d="M649.1 627.4 C649.9 603.2 651.9 531.9 653.8 482.3 C655.7 432.7 658.8 367.6 660.6 330.0 C662.4 292.4 663.4 276.1 664.8 257.0 C666.2 237.9 667.6 225.3 668.9 215.5 C670.2 205.7 671.3 202.4 672.5 198.0 C673.7 193.6 675.2 188.7 676.2 189.0 C677.2 189.3 677.6 193.8 678.5 200.0 C679.4 206.2 680.4 213.0 681.4 226.0 C682.4 239.0 683.5 260.7 684.5 278.0 C685.5 295.3 686.6 317.9 687.6 330.0 C688.6 342.1 688.9 333.7 690.8 350.3 C692.6 366.9 695.6 403.1 698.7 429.5 C701.8 455.9 705.8 484.5 709.3 508.7 C712.8 532.9 715.8 552.6 719.8 574.6 C723.8 596.6 728.3 621.4 733.0 640.6 C737.7 659.8 743.5 678.9 748.0 690.0 C752.5 701.1 756.2 702.8 760.0 707.0 C763.8 711.2 767.7 713.5 771.0 715.0 C774.3 716.5 761.5 715.8 780.0 716.0 C798.5 716.2 865.0 716.0 882.0 716.0" fill="none" stroke="#1e1e1e" stroke-width="1.6" stroke-dasharray="2 3"/>
<rect x="760.5" y="80.2" width="27" height="17.5" fill="#6a89e9" fill-opacity="0.45" stroke="#333" stroke-opacity="0.7" stroke-width="1.4"/>
<text x="0" y="0" font-size="23.80" text-anchor="start" stroke="#111" stroke-width="0.45" fill="#111" transform="translate(794.30 98.02) scale(1.0500 1)">KFMP</text>
<rect x="760.5" y="121.2" width="27" height="17.5" fill="#11614b" fill-opacity="0.45" stroke="#333" stroke-opacity="0.7" stroke-width="1.4" stroke-dasharray="7 4"/>
<text x="0" y="0" font-size="23.80" text-anchor="start" stroke="#111" stroke-width="0.45" fill="#111" transform="translate(794.30 139.02) scale(1.0500 1)">PISCO8</text>
<rect x="760.5" y="162.2" width="27" height="17.5" fill="#f4a811" fill-opacity="0.45" stroke="#333" stroke-opacity="0.7" stroke-width="1.4" stroke-dasharray="2 3"/>
<text x="0" y="0" font-size="23.80" text-anchor="start" stroke="#111" stroke-width="0.45" fill="#111" transform="translate(794.30 180.02) scale(1.0500 1)">PISCO24</text>
<rect x="760.5" y="203.2" width="27" height="17.5" fill="#d93789" fill-opacity="0.45" stroke="#333" stroke-opacity="0.7" stroke-width="1.4" stroke-dasharray="7 3 2 3"/>
<text x="0" y="0" font-size="23.80" text-anchor="start" stroke="#111" stroke-width="0.45" fill="#111" transform="translate(794.30 221.02) scale(1.0500 1)">REEFCHECK</text>
<text x="0" y="0" font-size="35.50" text-anchor="start" font-weight="bold" fill="#000" transform="translate(20.10 833.60) scale(0.9200 1)">B</text>
<rect x="108.0" y="847.8" width="255.3" height="44.3" fill="#d4d4d4" stroke="#333333" stroke-width="1.6"/>
<text x="235.65" y="878.65" font-size="25.70" text-anchor="middle" font-weight="bold" fill="#111">D0</text>
<rect x="373.0" y="847.8" width="255.4" height="44.3" fill="#d4d4d4" stroke="#333333" stroke-width="1.6"/>
<text x="500.70" y="878.65" font-size="25.70" text-anchor="middle" font-weight="bold" fill="#111">D1</text>
<rect x="638.2" y="847.8" width="255.4" height="44.3" fill="#d4d4d4" stroke="#333333" stroke-width="1.6"/>
<text x="765.90" y="878.65" font-size="25.70" text-anchor="middle" font-weight="bold" fill="#111">D2</text>
<line x1="108.0" y1="892.1" x2="108.0" y2="1590.3" stroke="#1a1a1a" stroke-width="1.8"/>
<line x1="107.1" y1="1589.5" x2="362.8" y2="1589.5" stroke="#1a1a1a" stroke-width="1.8"/>
<line x1="371.9" y1="1589.5" x2="627.5" y2="1589.5" stroke="#1a1a1a" stroke-width="1.8"/>
<line x1="637.3" y1="1589.5" x2="893.4" y2="1589.5" stroke="#1a1a1a" stroke-width="1.8"/>
<line x1="99.5" y1="1583.5" x2="108.0" y2="1583.5" stroke="#1a1a1a" stroke-width="1.6"/>
<text x="91.00" y="1591.48" font-size="23.40" text-anchor="end" stroke="#111" stroke-width="0.45" fill="#111">0.0</text>
<line x1="99.5" y1="1420.5" x2="108.0" y2="1420.5" stroke="#1a1a1a" stroke-width="1.6"/>
<text x="91.00" y="1428.45" font-size="23.40" text-anchor="end" stroke="#111" stroke-width="0.45" fill="#111">0.5</text>
<line x1="99.5" y1="1257.5" x2="108.0" y2="1257.5" stroke="#1a1a1a" stroke-width="1.6"/>
<text x="91.00" y="1265.43" font-size="23.40" text-anchor="end" stroke="#111" stroke-width="0.45" fill="#111">1.0</text>
<line x1="99.5" y1="1094.4" x2="108.0" y2="1094.4" stroke="#1a1a1a" stroke-width="1.6"/>
<text x="91.00" y="1102.40" font-size="23.40" text-anchor="end" stroke="#111" stroke-width="0.45" fill="#111">1.5</text>
<line x1="99.5" y1="931.4" x2="108.0" y2="931.4" stroke="#1a1a1a" stroke-width="1.6"/>
<text x="91.00" y="939.38" font-size="23.40" text-anchor="end" stroke="#111" stroke-width="0.45" fill="#111">2.0</text>
<line x1="118.8" y1="1589.5" x2="118.8" y2="1598.0" stroke="#1a1a1a" stroke-width="1.6"/>
<text x="118.80" y="1621.10" font-size="23.20" text-anchor="middle" stroke="#111" stroke-width="0.45" fill="#111">0</text>
<line x1="191.3" y1="1589.5" x2="191.3" y2="1598.0" stroke="#1a1a1a" stroke-width="1.6"/>
<text x="191.30" y="1621.10" font-size="23.20" text-anchor="middle" stroke="#111" stroke-width="0.45" fill="#111">2</text>
<line x1="263.8" y1="1589.5" x2="263.8" y2="1598.0" stroke="#1a1a1a" stroke-width="1.6"/>
<text x="263.80" y="1621.10" font-size="23.20" text-anchor="middle" stroke="#111" stroke-width="0.45" fill="#111">4</text>
<line x1="336.3" y1="1589.5" x2="336.3" y2="1598.0" stroke="#1a1a1a" stroke-width="1.6"/>
<text x="336.30" y="1621.10" font-size="23.20" text-anchor="middle" stroke="#111" stroke-width="0.45" fill="#111">6</text>
<line x1="384.0" y1="1589.5" x2="384.0" y2="1598.0" stroke="#1a1a1a" stroke-width="1.6"/>
<text x="384.00" y="1621.10" font-size="23.20" text-anchor="middle" stroke="#111" stroke-width="0.45" fill="#111">0</text>
<line x1="456.5" y1="1589.5" x2="456.5" y2="1598.0" stroke="#1a1a1a" stroke-width="1.6"/>
<text x="456.50" y="1621.10" font-size="23.20" text-anchor="middle" stroke="#111" stroke-width="0.45" fill="#111">2</text>
<line x1="529.0" y1="1589.5" x2="529.0" y2="1598.0" stroke="#1a1a1a" stroke-width="1.6"/>
<text x="529.00" y="1621.10" font-size="23.20" text-anchor="middle" stroke="#111" stroke-width="0.45" fill="#111">4</text>
<line x1="601.5" y1="1589.5" x2="601.5" y2="1598.0" stroke="#1a1a1a" stroke-width="1.6"/>
<text x="601.50" y="1621.10" font-size="23.20" text-anchor="middle" stroke="#111" stroke-width="0.45" fill="#111">6</text>
<line x1="649.6" y1="1589.5" x2="649.6" y2="1598.0" stroke="#1a1a1a" stroke-width="1.6"/>
<text x="649.60" y="1621.10" font-size="23.20" text-anchor="middle" stroke="#111" stroke-width="0.45" fill="#111">0</text>
<line x1="722.1" y1="1589.5" x2="722.1" y2="1598.0" stroke="#1a1a1a" stroke-width="1.6"/>
<text x="722.10" y="1621.10" font-size="23.20" text-anchor="middle" stroke="#111" stroke-width="0.45" fill="#111">2</text>
<line x1="794.6" y1="1589.5" x2="794.6" y2="1598.0" stroke="#1a1a1a" stroke-width="1.6"/>
<text x="794.60" y="1621.10" font-size="23.20" text-anchor="middle" stroke="#111" stroke-width="0.45" fill="#111">4</text>
<line x1="867.1" y1="1589.5" x2="867.1" y2="1598.0" stroke="#1a1a1a" stroke-width="1.6"/>
<text x="867.10" y="1621.10" font-size="23.20" text-anchor="middle" stroke="#111" stroke-width="0.45" fill="#111">6</text>
<text x="0" y="0" font-size="23.00" text-anchor="middle" stroke="#111" stroke-width="0.45" fill="#111" transform="translate(502.50 1647.80) scale(1.0200 1)">Diver Hours</text>
<text x="0" y="0" font-size="30.40" text-anchor="middle" fill="#111" stroke="#111" stroke-width="0.45" transform="translate(45.00 1247.30) rotate(-90) scale(1 1.06)">CI / mean</text>
<path d="M118.8 1278.5 L138.4 1506.0 L155.8 1529.5 L174.0 1539.6 L192.4 1545.4 L210.1 1548.5 L227.6 1551.3 L227.4 1560.3 L209.9 1557.5 L192.2 1554.4 L173.6 1548.6 L154.8 1538.5 L135.4 1515.0 L118.8 1278.5 Z" fill="#a9bff2" fill-opacity="0.62" stroke="none"/>
<path d="M118.8 1272.7 C119.4 1275.9 121.3 1285.8 122.6 1292.0 C123.9 1298.2 125.2 1303.0 126.5 1310.0 C127.8 1317.0 129.2 1323.0 130.6 1334.0 C132.0 1345.0 133.7 1361.9 135.2 1376.0 C136.7 1390.1 138.2 1406.1 139.8 1418.7 C141.5 1431.2 143.2 1442.8 145.2 1451.1 C147.1 1459.5 149.1 1463.5 151.3 1469.0 C153.6 1474.5 154.8 1478.9 158.4 1484.2 C162.0 1489.5 168.7 1496.8 173.0 1501.0 C177.4 1505.2 180.6 1507.0 184.6 1509.5 C188.6 1512.0 195.0 1515.0 197.0 1516.1 L196.0 1529.1 C193.9 1528.0 187.5 1525.0 183.4 1522.5 C179.2 1520.0 175.8 1518.2 171.2 1514.0 C166.5 1509.8 159.7 1502.5 155.6 1497.2 C151.5 1491.9 149.2 1487.9 146.7 1482.0 C144.1 1476.1 141.8 1471.4 140.2 1461.8 C138.7 1452.2 138.0 1438.7 137.2 1424.4 C136.3 1410.1 136.3 1391.1 135.2 1376.0 C134.1 1360.9 132.0 1345.0 130.6 1334.0 C129.2 1323.0 127.8 1317.0 126.5 1310.0 C125.2 1303.0 123.9 1298.2 122.6 1292.0 C121.3 1285.8 119.4 1275.9 118.8 1272.7 Z" fill="#5f7f6c" fill-opacity="0.62" stroke="none"/>
<path d="M118.8 1290.3 C119.4 1291.9 121.3 1295.7 122.6 1300.0 C123.9 1304.3 125.2 1309.7 126.5 1316.0 C127.8 1322.3 129.1 1327.7 130.6 1338.0 C132.1 1348.3 133.9 1364.2 135.5 1378.0 C137.1 1391.8 138.6 1408.2 140.2 1420.6 C141.8 1433.0 143.0 1444.7 145.2 1452.5 C147.5 1460.3 150.8 1462.0 153.7 1467.4 C156.6 1472.8 158.6 1480.0 162.6 1485.0 C166.6 1490.0 171.9 1492.6 177.6 1497.6 C183.3 1502.6 188.5 1510.2 196.8 1515.2 C205.1 1520.2 215.4 1524.4 227.6 1527.8 C239.9 1531.2 255.4 1533.1 270.1 1535.4 C284.8 1537.7 302.5 1539.9 316.0 1541.4 C329.4 1542.9 345.0 1543.9 350.8 1544.4 L350.8 1550.4 C344.9 1549.9 329.3 1548.9 315.8 1547.4 C302.4 1545.9 284.7 1543.7 269.9 1541.4 C255.2 1539.1 239.6 1537.2 227.4 1533.8 C215.1 1530.4 204.6 1526.2 196.2 1521.2 C187.8 1516.2 182.6 1508.6 176.8 1503.6 C171.0 1498.6 165.5 1496.0 161.4 1491.0 C157.2 1486.0 155.0 1479.0 151.9 1473.4 C148.8 1467.8 144.9 1465.8 142.8 1457.5 C140.6 1449.2 140.0 1436.7 138.8 1423.4 C137.6 1410.2 136.9 1392.2 135.5 1378.0 C134.1 1363.8 132.1 1348.3 130.6 1338.0 C129.1 1327.7 127.8 1322.3 126.5 1316.0 C125.2 1309.7 123.9 1304.3 122.6 1300.0 C121.3 1295.7 119.4 1291.9 118.8 1290.3 Z" fill="#f8cd6a" fill-opacity="0.62" stroke="none"/>
<path d="M118.8 1255.0 C120.1 1257.2 124.9 1262.3 126.4 1268.5 C128.0 1274.7 126.8 1281.1 128.1 1292.0 C129.4 1302.9 132.5 1320.0 134.3 1334.0 C136.1 1348.0 137.5 1362.1 139.0 1376.0 C140.5 1389.9 142.0 1406.6 143.5 1417.3 C145.0 1428.1 145.7 1432.8 148.0 1440.7 C150.4 1448.5 153.3 1456.2 157.5 1464.4 C161.7 1472.6 166.5 1482.9 173.2 1489.6 C179.9 1496.3 190.2 1500.9 197.9 1504.7 C205.5 1508.5 210.5 1509.8 219.1 1512.2 C227.8 1514.6 244.6 1517.9 249.7 1519.0 L249.1 1533.0 C244.0 1531.9 227.2 1528.6 218.5 1526.2 C209.7 1523.8 204.7 1522.5 196.7 1518.7 C188.8 1514.9 178.3 1510.3 171.0 1503.6 C163.7 1496.9 157.7 1487.2 153.1 1478.4 C148.4 1469.6 145.1 1459.9 143.0 1450.8 C140.8 1441.6 141.0 1436.0 140.3 1423.6 C139.7 1411.1 140.0 1390.9 139.0 1376.0 C138.0 1361.1 136.1 1348.0 134.3 1334.0 C132.5 1320.0 129.4 1302.9 128.1 1292.0 C126.8 1281.1 128.0 1274.7 126.4 1268.5 C124.9 1262.3 120.1 1257.2 118.8 1255.0 Z" fill="#ec8fbc" fill-opacity="0.62" stroke="none"/>
<path d="M118.8 1278.5 L136.9 1509.0 L155.3 1532.5 L173.8 1542.6 L192.3 1548.4 L210.0 1551.5 L227.5 1554.3" fill="none" stroke="#5b80e6" stroke-width="2.4" stroke-linejoin="round"/>
<path d="M118.8 1272.7 C119.4 1275.9 121.3 1285.8 122.6 1292.0 C123.9 1298.2 125.2 1303.0 126.5 1310.0 C127.8 1317.0 129.2 1323.0 130.6 1334.0 C132.0 1345.0 133.9 1361.7 135.2 1376.0 C136.5 1390.3 137.2 1407.1 138.5 1420.0 C139.8 1432.9 140.9 1444.9 142.7 1453.6 C144.4 1462.3 146.6 1466.4 149.0 1472.0 C151.4 1477.6 153.2 1481.9 157.0 1487.2 C160.8 1492.5 167.6 1499.8 172.1 1504.0 C176.6 1508.2 179.9 1510.0 184.0 1512.5 C188.1 1515.0 194.4 1518.0 196.5 1519.1" fill="none" stroke="#1a4f2d" stroke-width="2.4" stroke-linejoin="round"/>
<path d="M118.8 1290.3 C119.4 1291.9 121.3 1295.7 122.6 1300.0 C123.9 1304.3 125.2 1309.7 126.5 1316.0 C127.8 1322.3 129.1 1327.7 130.6 1338.0 C132.1 1348.3 134.0 1364.0 135.5 1378.0 C137.0 1392.0 138.1 1409.2 139.5 1422.0 C140.9 1434.8 141.8 1446.9 144.0 1455.0 C146.2 1463.1 149.8 1464.9 152.8 1470.4 C155.8 1475.9 157.9 1483.0 162.0 1488.0 C166.1 1493.0 171.4 1495.6 177.2 1500.6 C182.9 1505.6 188.1 1513.2 196.5 1518.2 C204.9 1523.2 215.2 1527.4 227.5 1530.8 C239.8 1534.2 255.3 1536.1 270.0 1538.4 C284.7 1540.7 302.4 1542.9 315.9 1544.4 C329.4 1545.9 345.0 1546.9 350.8 1547.4" fill="none" stroke="#f2ae1a" stroke-width="2.4" stroke-linejoin="round"/>
<path d="M118.8 1255.0 C120.1 1257.2 124.9 1262.3 126.4 1268.5 C128.0 1274.7 126.8 1281.1 128.1 1292.0 C129.4 1302.9 132.5 1320.0 134.3 1334.0 C136.1 1348.0 137.7 1361.7 139.0 1376.0 C140.3 1390.3 140.8 1408.5 141.9 1420.0 C143.0 1431.5 143.3 1436.6 145.5 1445.0 C147.7 1453.4 150.9 1462.0 155.3 1470.4 C159.7 1478.8 165.1 1488.9 172.1 1495.6 C179.1 1502.3 189.5 1506.9 197.3 1510.7 C205.1 1514.5 210.1 1515.8 218.8 1518.2 C227.5 1520.6 244.3 1523.9 249.4 1525.0" fill="none" stroke="#d42a68" stroke-width="2.4" stroke-linejoin="round"/>
<path d="M383.9 992.2 L403.9 1499.3 L420.9 1523.6 L439.1 1533.7 L457.5 1540.4 L475.1 1544.5 L492.6 1548.0 L492.4 1558.0 L474.9 1554.5 L457.1 1550.4 L438.5 1543.7 L419.7 1533.6 L399.9 1509.3 L383.9 992.2 Z" fill="#a9bff2" fill-opacity="0.62" stroke="none"/>
<path d="M383.9 1066.6 C384.2 1072.2 385.0 1086.1 386.0 1100.0 C387.0 1113.9 388.3 1124.3 389.7 1150.0 C391.1 1175.7 392.1 1212.7 394.5 1254.0 C396.9 1295.3 401.5 1368.8 404.0 1397.8 C406.5 1426.7 406.6 1417.7 409.3 1427.6 C411.9 1437.6 415.5 1448.4 419.8 1457.5 C424.2 1466.6 430.7 1476.6 435.3 1482.3 C440.0 1488.0 443.3 1489.2 447.8 1492.0 C452.3 1494.8 459.8 1497.9 462.2 1499.1 L460.8 1521.1 C458.4 1519.9 451.0 1516.8 446.2 1514.0 C441.4 1511.2 437.6 1510.2 432.3 1504.3 C426.9 1498.4 418.8 1489.4 414.2 1478.8 C409.6 1468.2 406.5 1453.4 404.5 1440.7 C402.5 1428.1 403.9 1433.8 402.2 1402.7 C400.5 1371.5 396.6 1296.1 394.5 1254.0 C392.4 1211.9 391.1 1175.7 389.7 1150.0 C388.3 1124.3 387.0 1113.9 386.0 1100.0 C385.0 1086.1 384.2 1072.2 383.9 1066.6 Z" fill="#5f7f6c" fill-opacity="0.62" stroke="none"/>
<path d="M383.9 1125.0 C384.2 1129.2 384.7 1137.5 385.9 1150.0 C387.1 1162.5 389.2 1182.7 391.0 1200.0 C392.8 1217.3 394.8 1232.3 396.5 1254.0 C398.2 1275.7 399.6 1305.0 401.5 1330.0 C403.4 1355.0 406.0 1387.0 408.1 1403.9 C410.1 1420.8 411.2 1421.3 414.0 1431.2 C416.8 1441.1 420.2 1453.8 425.0 1463.3 C429.8 1472.8 436.6 1481.6 442.9 1488.3 C449.2 1495.0 455.1 1499.4 462.7 1503.5 C470.2 1507.6 479.6 1510.2 488.2 1513.0 C496.9 1515.8 502.6 1517.4 514.6 1520.2 C526.5 1523.0 542.9 1527.2 559.7 1529.8 C576.5 1532.4 606.2 1534.7 615.5 1535.7 L615.3 1544.7 C606.0 1543.7 576.3 1541.4 559.5 1538.8 C542.7 1536.2 526.2 1532.0 514.2 1529.2 C502.3 1526.4 496.5 1524.8 487.8 1522.0 C479.1 1519.2 469.7 1516.6 461.9 1512.5 C454.2 1508.4 448.1 1504.0 441.5 1497.3 C434.9 1490.6 427.4 1482.2 422.4 1472.0 C417.4 1461.9 414.2 1447.5 411.6 1436.6 C409.0 1425.6 408.6 1424.2 406.9 1406.4 C405.3 1388.6 403.2 1355.4 401.5 1330.0 C399.8 1304.6 398.2 1275.7 396.5 1254.0 C394.8 1232.3 392.8 1217.3 391.0 1200.0 C389.2 1182.7 387.1 1162.5 385.9 1150.0 C384.7 1137.5 384.2 1129.2 383.9 1125.0 Z" fill="#f8cd6a" fill-opacity="0.62" stroke="none"/>
<path d="M383.9 1120.3 C385.1 1125.2 388.9 1127.7 391.0 1150.0 C393.1 1172.3 393.5 1211.1 396.3 1254.0 C399.1 1296.9 404.8 1378.2 407.5 1407.3 C410.3 1436.5 410.1 1420.1 412.7 1428.8 C415.3 1437.5 418.4 1450.2 423.0 1459.4 C427.5 1468.7 433.5 1477.4 440.1 1484.3 C446.8 1491.2 454.9 1496.7 463.0 1501.0 C471.0 1505.3 479.8 1507.3 488.4 1510.0 C497.0 1512.7 510.4 1515.8 514.8 1517.0 L514.0 1535.0 C509.6 1533.8 496.3 1530.7 487.6 1528.0 C478.9 1525.3 470.0 1523.3 461.6 1519.0 C453.3 1514.7 444.8 1509.3 437.5 1502.3 C430.1 1495.3 422.6 1487.3 417.6 1476.9 C412.7 1466.4 410.0 1450.1 407.9 1439.6 C405.8 1429.0 406.8 1444.3 404.9 1413.3 C402.9 1382.4 398.6 1297.9 396.3 1254.0 C394.0 1210.1 393.1 1172.3 391.0 1150.0 C388.9 1127.7 385.1 1125.2 383.9 1120.3 Z" fill="#ec8fbc" fill-opacity="0.62" stroke="none"/>
<path d="M383.9 992.2 L401.9 1503.3 L420.3 1527.6 L438.8 1537.7 L457.3 1544.4 L475.0 1548.5 L492.5 1552.0" fill="none" stroke="#5b80e6" stroke-width="2.4" stroke-linejoin="round"/>
<path d="M383.9 1066.6 C384.2 1072.2 385.0 1086.1 386.0 1100.0 C387.0 1113.9 388.3 1124.3 389.7 1150.0 C391.1 1175.7 392.3 1212.3 394.5 1254.0 C396.7 1295.7 401.0 1370.1 403.1 1400.0 C405.2 1429.9 404.6 1422.4 406.9 1433.6 C409.2 1444.8 412.5 1457.4 417.0 1467.2 C421.5 1477.0 428.8 1486.5 433.8 1492.3 C438.8 1498.1 442.4 1499.2 447.0 1502.0 C451.6 1504.8 459.1 1507.9 461.5 1509.1" fill="none" stroke="#1a4f2d" stroke-width="2.4" stroke-linejoin="round"/>
<path d="M383.9 1125.0 C384.2 1129.2 384.7 1137.5 385.9 1150.0 C387.1 1162.5 389.2 1182.7 391.0 1200.0 C392.8 1217.3 394.8 1232.3 396.5 1254.0 C398.2 1275.7 399.7 1304.8 401.5 1330.0 C403.3 1355.2 405.6 1387.7 407.5 1405.0 C409.4 1422.3 410.1 1423.2 412.8 1433.6 C415.5 1444.0 418.8 1457.4 423.7 1467.2 C428.6 1477.0 435.8 1485.6 442.2 1492.3 C448.6 1499.0 454.7 1503.4 462.3 1507.5 C469.9 1511.6 479.3 1514.2 488.0 1517.0 C496.7 1519.8 502.5 1521.4 514.4 1524.2 C526.3 1527.0 542.8 1531.2 559.6 1533.8 C576.4 1536.4 606.1 1538.7 615.4 1539.7" fill="none" stroke="#f2ae1a" stroke-width="2.4" stroke-linejoin="round"/>
<path d="M383.9 1120.3 C385.1 1125.2 388.9 1127.7 391.0 1150.0 C393.1 1172.3 393.8 1210.7 396.3 1254.0 C398.8 1297.3 403.9 1380.1 406.2 1410.0 C408.5 1439.9 407.9 1424.1 410.3 1433.6 C412.7 1443.1 415.6 1457.4 420.3 1467.2 C425.1 1477.0 431.8 1485.3 438.8 1492.3 C445.8 1499.3 454.1 1504.7 462.3 1509.0 C470.5 1513.3 479.3 1515.3 488.0 1518.0 C496.7 1520.7 510.0 1523.8 514.4 1525.0" fill="none" stroke="#d42a68" stroke-width="2.4" stroke-linejoin="round"/>
<path d="M649.5 923.1 L668.9 1501.8 L685.9 1525.3 L704.1 1536.2 L724.2 1542.1 L740.9 1545.4 L757.7 1551.3 L757.3 1561.3 L740.5 1555.4 L723.8 1552.1 L703.5 1546.2 L684.7 1535.3 L664.9 1511.8 L649.5 923.1 Z" fill="#a9bff2" fill-opacity="0.62" stroke="none"/>
<path d="M649.2 1010.5 C649.7 1017.1 651.0 1035.0 652.0 1050.0 C653.0 1065.0 654.3 1079.1 655.5 1100.8 C656.7 1122.5 657.9 1148.5 659.0 1180.0 C660.1 1211.5 660.4 1253.8 662.4 1290.0 C664.4 1326.2 667.4 1372.2 670.9 1397.3 C674.4 1422.5 680.1 1430.0 683.4 1441.0 C686.8 1452.1 686.8 1456.5 690.9 1463.6 C695.1 1470.7 702.4 1478.7 708.3 1483.7 C714.2 1488.7 723.3 1492.1 726.3 1493.8 L724.9 1517.8 C721.7 1516.1 712.5 1512.7 706.1 1507.7 C699.7 1502.7 691.3 1495.6 686.5 1487.6 C681.6 1479.6 680.1 1473.9 677.2 1459.8 C674.3 1445.6 671.6 1431.0 669.1 1402.7 C666.6 1374.4 664.1 1327.1 662.4 1290.0 C660.7 1252.9 660.1 1211.5 659.0 1180.0 C657.9 1148.5 656.7 1122.5 655.5 1100.8 C654.3 1079.1 653.0 1065.0 652.0 1050.0 C651.0 1035.0 649.7 1017.1 649.2 1010.5 Z" fill="#5f7f6c" fill-opacity="0.62" stroke="none"/>
<path d="M648.8 1057.1 C649.6 1065.1 652.4 1089.5 653.9 1105.0 C655.4 1120.5 656.9 1134.2 658.0 1150.0 C659.1 1165.8 659.6 1183.3 660.4 1200.0 C661.2 1216.7 662.0 1233.3 662.8 1250.0 C663.6 1266.7 663.2 1275.2 665.0 1300.0 C666.8 1324.8 670.0 1374.4 673.6 1398.7 C677.3 1423.0 683.0 1433.9 686.9 1445.7 C690.7 1457.5 692.2 1462.2 696.5 1469.6 C700.8 1477.0 707.4 1485.1 712.6 1490.0 C717.8 1494.9 721.0 1495.9 727.6 1499.0 C734.2 1502.1 743.6 1505.7 752.2 1508.5 C760.9 1511.3 767.1 1513.2 779.5 1515.7 C792.0 1518.2 810.1 1521.2 827.0 1523.6 C843.9 1526.0 872.1 1529.0 881.2 1530.1 L881.0 1542.1 C872.0 1541.0 843.8 1538.0 826.8 1535.6 C809.8 1533.2 791.8 1530.2 779.3 1527.7 C766.8 1525.2 760.5 1523.3 751.8 1520.5 C743.1 1517.7 733.7 1514.1 727.0 1511.0 C720.3 1507.9 716.8 1506.9 711.4 1502.0 C705.9 1497.1 698.9 1489.4 694.3 1481.6 C689.7 1473.8 687.3 1468.5 683.7 1455.1 C680.2 1441.7 675.9 1427.2 672.8 1401.3 C669.6 1375.5 666.7 1325.2 665.0 1300.0 C663.3 1274.8 663.6 1266.7 662.8 1250.0 C662.0 1233.3 661.2 1216.7 660.4 1200.0 C659.6 1183.3 659.1 1165.8 658.0 1150.0 C656.9 1134.2 655.4 1120.5 653.9 1105.0 C652.4 1089.5 649.6 1065.1 648.8 1057.1 Z" fill="#f8cd6a" fill-opacity="0.62" stroke="none"/>
<path d="M648.8 1079.8 C650.2 1085.7 655.2 1098.3 657.2 1115.0 C659.2 1131.7 659.4 1150.8 660.6 1180.0 C661.8 1209.2 662.6 1253.7 664.6 1290.0 C666.6 1326.3 669.0 1372.3 672.6 1397.6 C676.1 1422.9 682.3 1430.6 685.9 1441.8 C689.5 1453.0 690.0 1457.2 694.3 1464.6 C698.5 1472.0 706.0 1481.4 711.6 1486.4 C717.2 1491.4 721.1 1492.0 727.8 1494.8 C734.6 1497.6 743.8 1500.7 752.4 1503.5 C761.1 1506.3 775.2 1510.2 779.8 1511.6 L779.0 1533.6 C774.4 1532.2 760.3 1528.3 751.6 1525.5 C742.9 1522.7 733.8 1519.6 726.8 1516.8 C719.7 1514.0 715.5 1513.4 709.4 1508.4 C703.2 1503.4 694.7 1494.8 689.7 1486.6 C684.8 1478.4 682.8 1473.0 679.7 1459.0 C676.5 1445.0 673.3 1430.6 670.8 1402.4 C668.3 1374.3 666.3 1327.1 664.6 1290.0 C662.9 1252.9 661.8 1209.2 660.6 1180.0 C659.4 1150.8 659.2 1131.7 657.2 1115.0 C655.2 1098.3 650.2 1085.7 648.8 1079.8 Z" fill="#ec8fbc" fill-opacity="0.62" stroke="none"/>
<path d="M649.5 923.1 L666.9 1505.8 L685.3 1529.3 L703.8 1540.2 L724.0 1546.1 L740.7 1549.4 L757.5 1555.3" fill="none" stroke="#5b80e6" stroke-width="2.4" stroke-linejoin="round"/>
<path d="M649.2 1010.5 C649.7 1017.1 651.0 1035.0 652.0 1050.0 C653.0 1065.0 654.3 1079.1 655.5 1100.8 C656.7 1122.5 657.9 1148.5 659.0 1180.0 C660.1 1211.5 660.6 1253.3 662.4 1290.0 C664.2 1326.7 667.0 1373.3 670.0 1400.0 C673.0 1426.7 677.2 1437.8 680.3 1450.4 C683.4 1463.0 684.2 1468.0 688.7 1475.6 C693.2 1483.1 701.1 1490.7 707.2 1495.7 C713.4 1500.7 722.5 1504.1 725.6 1505.8" fill="none" stroke="#1a4f2d" stroke-width="2.4" stroke-linejoin="round"/>
<path d="M648.8 1057.1 C649.6 1065.1 652.4 1089.5 653.9 1105.0 C655.4 1120.5 656.9 1134.2 658.0 1150.0 C659.1 1165.8 659.6 1183.3 660.4 1200.0 C661.2 1216.7 662.0 1233.3 662.8 1250.0 C663.6 1266.7 663.3 1275.0 665.0 1300.0 C666.7 1325.0 669.8 1374.9 673.2 1400.0 C676.6 1425.1 681.6 1437.8 685.3 1450.4 C689.0 1463.0 690.9 1468.0 695.4 1475.6 C699.9 1483.2 706.7 1491.1 712.0 1496.0 C717.3 1500.9 720.6 1501.9 727.3 1505.0 C734.0 1508.1 743.3 1511.7 752.0 1514.5 C760.7 1517.3 766.9 1519.2 779.4 1521.7 C791.9 1524.2 809.9 1527.2 826.9 1529.6 C843.9 1532.0 872.1 1535.0 881.1 1536.1" fill="none" stroke="#f2ae1a" stroke-width="2.4" stroke-linejoin="round"/>
<path d="M648.8 1079.8 C650.2 1085.7 655.2 1098.3 657.2 1115.0 C659.2 1131.7 659.4 1150.8 660.6 1180.0 C661.8 1209.2 662.8 1253.3 664.6 1290.0 C666.5 1326.7 668.7 1373.3 671.7 1400.0 C674.7 1426.7 679.4 1437.8 682.8 1450.4 C686.2 1463.0 687.4 1467.8 692.0 1475.6 C696.6 1483.4 704.6 1492.4 710.5 1497.4 C716.4 1502.4 720.4 1503.0 727.3 1505.8 C734.2 1508.6 743.3 1511.7 752.0 1514.5 C760.7 1517.3 774.8 1521.2 779.4 1522.6" fill="none" stroke="#d42a68" stroke-width="2.4" stroke-linejoin="round"/>
<rect x="760.5" y="928.2" width="27" height="17.5" fill="#b9cbf3"/>
<line x1="760.5" y1="937.0" x2="787.5" y2="937.0" stroke="#3f63d6" stroke-width="3.2"/>
<text x="0" y="0" font-size="23.80" text-anchor="start" stroke="#111" stroke-width="0.45" fill="#111" transform="translate(794.30 946.02) scale(1.0500 1)">KFMP</text>
<rect x="760.5" y="969.2" width="27" height="17.5" fill="#98b6a6"/>
<line x1="760.5" y1="978.0" x2="787.5" y2="978.0" stroke="#1f6e2c" stroke-width="3.2"/>
<text x="0" y="0" font-size="23.80" text-anchor="start" stroke="#111" stroke-width="0.45" fill="#111" transform="translate(794.30 987.02) scale(1.0500 1)">PISCO8</text>
<rect x="760.5" y="1010.2" width="27" height="17.5" fill="#fbdc9a"/>
<line x1="760.5" y1="1019.0" x2="787.5" y2="1019.0" stroke="#f2be0a" stroke-width="3.2"/>
<text x="0" y="0" font-size="23.80" text-anchor="start" stroke="#111" stroke-width="0.45" fill="#111" transform="translate(794.30 1028.02) scale(1.0500 1)">PISCO24</text>
<rect x="760.5" y="1051.2" width="27" height="17.5" fill="#eda8cc"/>
<line x1="760.5" y1="1060.0" x2="787.5" y2="1060.0" stroke="#d01f35" stroke-width="3.2"/>
<text x="0" y="0" font-size="23.80" text-anchor="start" stroke="#111" stroke-width="0.45" fill="#111" transform="translate(794.30 1069.02) scale(1.0500 1)">REEFCHECK</text>
<text x="0" y="0" font-size="35.50" text-anchor="start" font-weight="bold" fill="#000" transform="translate(19.80 1680.90) scale(0.9400 1)">C</text>
<rect x="108.3" y="1696.6" width="255.6" height="43.8" fill="#d4d4d4" stroke="#333333" stroke-width="1.6"/>
<text x="236.10" y="1727.20" font-size="25.70" text-anchor="middle" font-weight="bold" fill="#111">D0</text>
<rect x="373.2" y="1696.6" width="255.8" height="43.8" fill="#d4d4d4" stroke="#333333" stroke-width="1.6"/>
<text x="501.10" y="1727.20" font-size="25.70" text-anchor="middle" font-weight="bold" fill="#111">D1</text>
<rect x="638.6" y="1696.6" width="255.4" height="43.8" fill="#d4d4d4" stroke="#333333" stroke-width="1.6"/>
<text x="766.30" y="1727.20" font-size="25.70" text-anchor="middle" font-weight="bold" fill="#111">D2</text>
<line x1="107.6" y1="1740.4" x2="107.6" y2="2438.6" stroke="#1a1a1a" stroke-width="1.8"/>
<line x1="106.7" y1="2437.7" x2="360.4" y2="2437.7" stroke="#1a1a1a" stroke-width="1.8"/>
<line x1="368.9" y1="2437.7" x2="622.7" y2="2437.7" stroke="#1a1a1a" stroke-width="1.8"/>
<line x1="631.5" y1="2437.7" x2="884.9" y2="2437.7" stroke="#1a1a1a" stroke-width="1.8"/>
<line x1="99.4" y1="2406.5" x2="107.9" y2="2406.5" stroke="#1a1a1a" stroke-width="1.6"/>
<text x="91.00" y="2414.48" font-size="23.40" text-anchor="end" stroke="#111" stroke-width="0.45" fill="#111">0.00</text>
<line x1="99.4" y1="2247.9" x2="107.9" y2="2247.9" stroke="#1a1a1a" stroke-width="1.6"/>
<text x="91.00" y="2255.88" font-size="23.40" text-anchor="end" stroke="#111" stroke-width="0.45" fill="#111">0.25</text>
<line x1="99.4" y1="2089.3" x2="107.9" y2="2089.3" stroke="#1a1a1a" stroke-width="1.6"/>
<text x="91.00" y="2097.28" font-size="23.40" text-anchor="end" stroke="#111" stroke-width="0.45" fill="#111">0.50</text>
<line x1="99.4" y1="1930.7" x2="107.9" y2="1930.7" stroke="#1a1a1a" stroke-width="1.6"/>
<text x="91.00" y="1938.68" font-size="23.40" text-anchor="end" stroke="#111" stroke-width="0.45" fill="#111">0.75</text>
<line x1="99.4" y1="1772.1" x2="107.9" y2="1772.1" stroke="#1a1a1a" stroke-width="1.6"/>
<text x="91.00" y="1780.08" font-size="23.40" text-anchor="end" stroke="#111" stroke-width="0.45" fill="#111">1.00</text>
<line x1="119.3" y1="2437.7" x2="119.3" y2="2446.2" stroke="#1a1a1a" stroke-width="1.6"/>
<text x="119.30" y="2469.90" font-size="23.20" text-anchor="middle" stroke="#111" stroke-width="0.45" fill="#111">0</text>
<line x1="191.0" y1="2437.7" x2="191.0" y2="2446.2" stroke="#1a1a1a" stroke-width="1.6"/>
<text x="191.00" y="2469.90" font-size="23.20" text-anchor="middle" stroke="#111" stroke-width="0.45" fill="#111">2</text>
<line x1="262.7" y1="2437.7" x2="262.7" y2="2446.2" stroke="#1a1a1a" stroke-width="1.6"/>
<text x="262.70" y="2469.90" font-size="23.20" text-anchor="middle" stroke="#111" stroke-width="0.45" fill="#111">4</text>
<line x1="334.4" y1="2437.7" x2="334.4" y2="2446.2" stroke="#1a1a1a" stroke-width="1.6"/>
<text x="334.40" y="2469.90" font-size="23.20" text-anchor="middle" stroke="#111" stroke-width="0.45" fill="#111">6</text>
<line x1="381.9" y1="2437.7" x2="381.9" y2="2446.2" stroke="#1a1a1a" stroke-width="1.6"/>
<text x="381.90" y="2469.90" font-size="23.20" text-anchor="middle" stroke="#111" stroke-width="0.45" fill="#111">0</text>
<line x1="453.6" y1="2437.7" x2="453.6" y2="2446.2" stroke="#1a1a1a" stroke-width="1.6"/>
<text x="453.60" y="2469.90" font-size="23.20" text-anchor="middle" stroke="#111" stroke-width="0.45" fill="#111">2</text>
<line x1="525.3" y1="2437.7" x2="525.3" y2="2446.2" stroke="#1a1a1a" stroke-width="1.6"/>
<text x="525.30" y="2469.90" font-size="23.20" text-anchor="middle" stroke="#111" stroke-width="0.45" fill="#111">4</text>
<line x1="597.0" y1="2437.7" x2="597.0" y2="2446.2" stroke="#1a1a1a" stroke-width="1.6"/>
<text x="597.00" y="2469.90" font-size="23.20" text-anchor="middle" stroke="#111" stroke-width="0.45" fill="#111">6</text>
<line x1="643.6" y1="2437.7" x2="643.6" y2="2446.2" stroke="#1a1a1a" stroke-width="1.6"/>
<text x="643.60" y="2469.90" font-size="23.20" text-anchor="middle" stroke="#111" stroke-width="0.45" fill="#111">0</text>
<line x1="715.3" y1="2437.7" x2="715.3" y2="2446.2" stroke="#1a1a1a" stroke-width="1.6"/>
<text x="715.30" y="2469.90" font-size="23.20" text-anchor="middle" stroke="#111" stroke-width="0.45" fill="#111">2</text>
<line x1="787.0" y1="2437.7" x2="787.0" y2="2446.2" stroke="#1a1a1a" stroke-width="1.6"/>
<text x="787.00" y="2469.90" font-size="23.20" text-anchor="middle" stroke="#111" stroke-width="0.45" fill="#111">4</text>
<line x1="858.7" y1="2437.7" x2="858.7" y2="2446.2" stroke="#1a1a1a" stroke-width="1.6"/>
<text x="858.70" y="2469.90" font-size="23.20" text-anchor="middle" stroke="#111" stroke-width="0.45" fill="#111">6</text>
<text x="0" y="0" font-size="23.00" text-anchor="middle" stroke="#111" stroke-width="0.45" fill="#111" transform="translate(502.00 2496.80) scale(1.0200 1)">Diver Hours</text>
<text x="0" y="0" font-size="30.40" text-anchor="middle" fill="#111" stroke="#111" stroke-width="0.45" transform="translate(45.30 2095.00) rotate(-90) scale(1 1.06)">Percent Power to Detect 25% Change</text>
<path d="M119.4 2406.0 L121.0 2356.0 L129.1 2218.0 L137.3 2080.0 L154.8 1915.9 L173.6 1826.3 L191.0 1784.8 L209.7 1778.1 L227.1 1771.9 L262.7 1771.9" fill="none" stroke="#5b80e6" stroke-width="2.4" stroke-linejoin="round"/>
<path d="M119.4 2406.0 L129.1 2406.0 L138.1 2380.9 L147.0 2324.0 L156.8 2242.6 L166.6 2161.3 L178.0 2080.0 L186.9 1982.8 L195.8 1938.7" fill="none" stroke="#1a4f2d" stroke-width="2.4" stroke-linejoin="round"/>
<path d="M119.4 2406.0 L133.0 2406.0 L140.5 2375.0 L155.0 2312.0 L163.0 2245.0 L170.0 2190.0 L177.0 2125.0 L185.0 2080.0 L196.3 1985.5 L201.7 1966.8 L233.8 1901.2 L243.1 1857.0 L252.5 1838.3 L263.2 1834.3 L272.6 1820.9 L281.9 1821.7 L300.7 1812.9 L311.4 1809.4 L320.7 1811.5 L330.1 1805.7 L338.1 1805.7 L348.8 1802.2" fill="none" stroke="#f2ae1a" stroke-width="2.4" stroke-linejoin="round"/>
<path d="M119.4 2406.0 L133.2 2406.0 L140.5 2372.8 L155.2 2307.7 L160.0 2258.9 L163.3 2226.4 L169.8 2185.7 L176.3 2128.8 L184.4 2080.0 L197.6 1978.8 L203.0 1964.1 L219.1 1907.9 L227.1 1891.8 L235.1 1891.8 L241.8 1886.5 L248.5 1866.4" fill="none" stroke="#d42a68" stroke-width="2.4" stroke-linejoin="round"/>
<path d="M381.4 2406.0 L391.1 2226.4 L402.5 2080.0 L416.8 1923.9 L435.6 1822.2 L453.0 1782.1 L471.7 1776.8 L489.1 1771.4 L524.7 1771.4" fill="none" stroke="#5b80e6" stroke-width="2.4" stroke-linejoin="round"/>
<path d="M381.4 2406.0 L391.1 2406.0 L400.9 2382.5 L409.0 2315.8 L418.8 2242.7 L431.8 2161.3 L443.2 2080.0 L448.9 2004.2 L457.8 1940.0" fill="none" stroke="#1a4f2d" stroke-width="2.4" stroke-linejoin="round"/>
<path d="M381.4 2406.0 L391.1 2406.0 L402.5 2385.8 L417.2 2307.7 L430.2 2210.1 L449.0 2090.0 L458.3 2031.0 L477.0 1961.4 L495.8 1917.2 L501.1 1889.1 L503.8 1873.1 L515.8 1853.0 L534.6 1839.6 L553.3 1842.3 L570.7 1822.2 L581.4 1820.1 L592.1 1813.7 L610.8 1808.3" fill="none" stroke="#f2ae1a" stroke-width="2.4" stroke-linejoin="round"/>
<path d="M381.4 2406.0 L394.4 2406.0 L403.3 2402.0 L410.7 2324.0 L422.0 2226.4 L431.8 2153.2 L440.0 2100.0 L447.6 2031.0 L459.6 1972.1 L467.7 1952.0 L474.4 1946.7 L481.1 1930.6 L489.1 1893.2 L495.8 1886.5 L510.5 1861.0" fill="none" stroke="#d42a68" stroke-width="2.4" stroke-linejoin="round"/>
<path d="M643.4 2406.0 L653.1 2242.7 L662.3 2100.0 L680.2 1953.4 L697.6 1850.3 L715.0 1792.8 L733.7 1782.6 L751.1 1792.3 L769.8 1771.4 L786.7 1771.4" fill="none" stroke="#5b80e6" stroke-width="2.4" stroke-linejoin="round"/>
<path d="M643.4 2406.0 L653.1 2398.8 L662.1 2369.5 L680.8 2234.5 L690.6 2180.8 L700.3 2135.3 L704.2 2100.0 L710.9 2044.4 L719.8 2006.9" fill="none" stroke="#1a4f2d" stroke-width="2.4" stroke-linejoin="round"/>
<path d="M643.4 2406.0 L654.8 2402.0 L662.9 2389.0 L674.3 2340.2 L687.0 2283.0 L700.3 2177.6 L712.0 2120.0 L720.3 2079.1 L729.7 2060.4 L739.0 2006.9 L757.8 1956.0 L765.8 1910.6 L777.8 1890.5 L796.6 1870.4 L805.9 1866.4 L816.6 1858.4 L824.7 1846.3 L834.0 1846.3 L852.8 1835.6 L863.5 1827.6 L872.8 1824.4" fill="none" stroke="#f2ae1a" stroke-width="2.4" stroke-linejoin="round"/>
<path d="M643.4 2406.0 L657.2 2406.0 L665.3 2402.0 L672.7 2372.8 L679.2 2312.6 L687.3 2283.3 L700.3 2180.8 L716.3 2100.0 L728.3 2017.6 L737.7 1982.8 L745.7 1966.8 L765.8 1909.2 L771.1 1910.6" fill="none" stroke="#d42a68" stroke-width="2.4" stroke-linejoin="round"/>
<line x1="760.5" y1="2268.0" x2="787.5" y2="2268.0" stroke="#3f63d6" stroke-width="3.2"/>
<text x="0" y="0" font-size="23.80" text-anchor="start" stroke="#111" stroke-width="0.45" fill="#111" transform="translate(794.30 2277.02) scale(1.0500 1)">KFMP</text>
<line x1="760.5" y1="2309.0" x2="787.5" y2="2309.0" stroke="#1f6e2c" stroke-width="3.2"/>
<text x="0" y="0" font-size="23.80" text-anchor="start" stroke="#111" stroke-width="0.45" fill="#111" transform="translate(794.30 2318.02) scale(1.0500 1)">PISCO8</text>
<line x1="760.5" y1="2350.0" x2="787.5" y2="2350.0" stroke="#f2be0a" stroke-width="3.2"/>
<text x="0" y="0" font-size="23.80" text-anchor="start" stroke="#111" stroke-width="0.45" fill="#111" transform="translate(794.30 2359.02) scale(1.0500 1)">PISCO24</text>
<line x1="760.5" y1="2391.0" x2="787.5" y2="2391.0" stroke="#d01f35" stroke-width="3.2"/>
<text x="0" y="0" font-size="23.80" text-anchor="start" stroke="#111" stroke-width="0.45" fill="#111" transform="translate(794.30 2400.02) scale(1.0500 1)">REEFCHECK</text>
</svg></body></html>
